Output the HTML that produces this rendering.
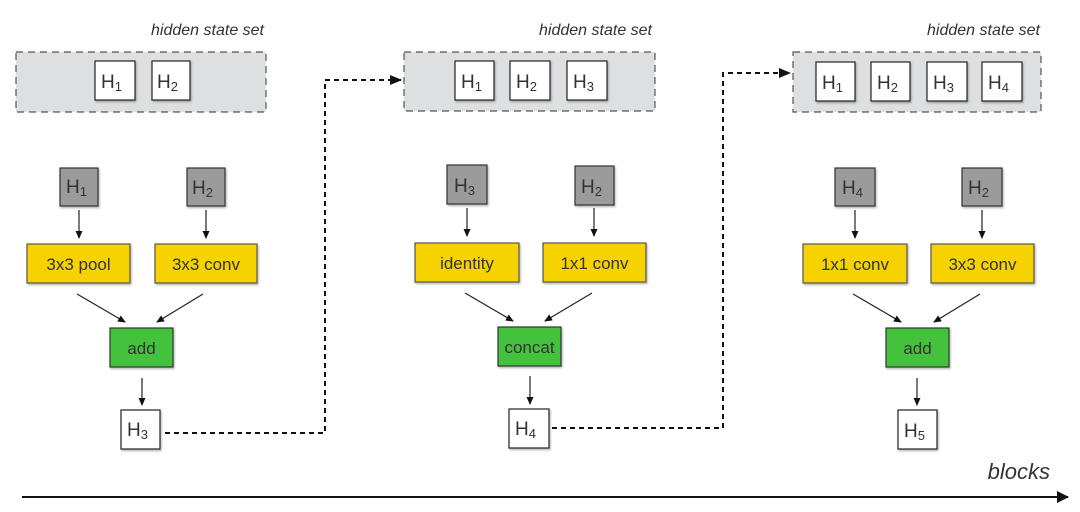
<!DOCTYPE html>
<html><head><meta charset="utf-8"><style>
html,body{margin:0;padding:0;background:#fff;width:1080px;height:512px;overflow:hidden}
svg text{font-family:"Liberation Sans",sans-serif;fill:#333}
</style></head><body>
<svg width="1080" height="512" xmlns="http://www.w3.org/2000/svg">
<defs>
<marker id="a" markerWidth="8" markerHeight="8" refX="7" refY="4" orient="auto" markerUnits="userSpaceOnUse"><path d="M0,0.5 L8,4 L0,7.5z" fill="#111"/></marker>
<marker id="c" markerWidth="12" markerHeight="12" refX="11" refY="6" orient="auto" markerUnits="userSpaceOnUse"><path d="M0,1 L12,6 L0,11z" fill="#111"/></marker>
<marker id="b" markerWidth="12" markerHeight="12" refX="11" refY="6" orient="auto" markerUnits="userSpaceOnUse"><path d="M0,0 L12,6 L0,12z" fill="#111"/></marker>
<filter id="s" x="-20%" y="-20%" width="150%" height="150%"><feDropShadow dx="1" dy="1.5" stdDeviation="1" flood-opacity="0.3"/></filter>
</defs>
<g font-style="italic" font-size="16">
<text x="264" y="35" text-anchor="end">hidden state set</text>
<text x="652" y="35" text-anchor="end">hidden state set</text>
<text x="1040" y="35" text-anchor="end">hidden state set</text>
</g>
<g fill="#dedfe1" stroke="#555" stroke-dasharray="7,5" stroke-width="1.2">
<rect x="16" y="52" width="250" height="60"/>
<rect x="404" y="52" width="251" height="59"/>
<rect x="793" y="52" width="248" height="60"/>
</g>
<g fill="#fff" stroke="#222" stroke-width="1.2" filter="url(#s)">
<rect x="95" y="61" width="40" height="39"/><rect x="152" y="61" width="38" height="39"/>
<rect x="455" y="61" width="39" height="39"/><rect x="510" y="61" width="40" height="39"/><rect x="567" y="61" width="40" height="39"/>
<rect x="816" y="62" width="39" height="39"/><rect x="871" y="62" width="39" height="39"/><rect x="927" y="62" width="40" height="39"/><rect x="982" y="62" width="40" height="39"/>
<rect x="121" y="410" width="39" height="39"/><rect x="509" y="409" width="40" height="39"/><rect x="898" y="410" width="39" height="39"/>
</g>
<g fill="#9b9b9b" stroke="#333" stroke-width="1.2" filter="url(#s)">
<rect x="60" y="168" width="38" height="38"/><rect x="187" y="168" width="38" height="38"/>
<rect x="447" y="165" width="40" height="39"/><rect x="575" y="166" width="39" height="39"/>
<rect x="835" y="168" width="40" height="38"/><rect x="962" y="168" width="40" height="38"/>
</g>
<g fill="#f5d200" stroke="#555" stroke-width="1.2" filter="url(#s)">
<rect x="27" y="244" width="103" height="39"/><rect x="155" y="244" width="102" height="39"/>
<rect x="415" y="243" width="104" height="39"/><rect x="543" y="243" width="103" height="39"/>
<rect x="803" y="244" width="104" height="39"/><rect x="931" y="244" width="103" height="39"/>
</g>
<g fill="#44c23d" stroke="#333" stroke-width="1.2" filter="url(#s)">
<rect x="110" y="328" width="63" height="39"/><rect x="498" y="327" width="63" height="39"/><rect x="886" y="328" width="63" height="39"/>
</g>
<g font-size="19">
<text x="101" y="88">H<tspan font-size="13" dy="3">1</tspan></text>
<text x="157" y="88">H<tspan font-size="13" dy="3">2</tspan></text>
<text x="461" y="88">H<tspan font-size="13" dy="3">1</tspan></text>
<text x="516" y="88">H<tspan font-size="13" dy="3">2</tspan></text>
<text x="573" y="88">H<tspan font-size="13" dy="3">3</tspan></text>
<text x="822" y="89">H<tspan font-size="13" dy="3">1</tspan></text>
<text x="877" y="89">H<tspan font-size="13" dy="3">2</tspan></text>
<text x="933" y="89">H<tspan font-size="13" dy="3">3</tspan></text>
<text x="988" y="89">H<tspan font-size="13" dy="3">4</tspan></text>
<text x="66" y="193">H<tspan font-size="13" dy="3">1</tspan></text>
<text x="192" y="194">H<tspan font-size="13" dy="3">2</tspan></text>
<text x="454" y="192">H<tspan font-size="13" dy="3">3</tspan></text>
<text x="581" y="193">H<tspan font-size="13" dy="3">2</tspan></text>
<text x="842" y="194">H<tspan font-size="13" dy="3">4</tspan></text>
<text x="968" y="194">H<tspan font-size="13" dy="3">2</tspan></text>
<text x="127" y="436">H<tspan font-size="13" dy="3">3</tspan></text>
<text x="515" y="435">H<tspan font-size="13" dy="3">4</tspan></text>
<text x="904" y="437">H<tspan font-size="13" dy="3">5</tspan></text>
</g>
<g font-size="17" text-anchor="middle">
<text x="78.5" y="270">3x3 pool</text><text x="206" y="270">3x3 conv</text>
<text x="467" y="269">identity</text><text x="594.5" y="269">1x1 conv</text>
<text x="855" y="270">1x1 conv</text><text x="982.5" y="270">3x3 conv</text>
<text x="141.5" y="354">add</text><text x="529.5" y="353">concat</text><text x="917.5" y="354">add</text>
</g>
<g stroke="#222" stroke-width="1.2" marker-end="url(#a)">
<line x1="79" y1="210" x2="79" y2="238"/><line x1="206" y1="210" x2="206" y2="238"/>
<line x1="467" y1="208" x2="467" y2="236"/><line x1="594" y1="208" x2="594" y2="236"/>
<line x1="855" y1="210" x2="855" y2="238"/><line x1="982" y1="210" x2="982" y2="238"/>
<line x1="77" y1="294" x2="125" y2="322"/><line x1="203" y1="294" x2="157" y2="322"/>
<line x1="465" y1="293" x2="513" y2="321"/><line x1="592" y1="293" x2="545" y2="321"/>
<line x1="853" y1="294" x2="901" y2="322"/><line x1="980" y1="294" x2="934" y2="322"/>
<line x1="142" y1="378" x2="142" y2="405"/><line x1="530" y1="376" x2="530" y2="404"/><line x1="917" y1="378" x2="917" y2="405"/>
</g>
<g fill="none" stroke="#111" stroke-width="2" stroke-dasharray="5,4" marker-end="url(#c)">
<path d="M165,433 H325 V80 H401"/>
<path d="M552,428 H723 V73 H790"/>
</g>
<line x1="22" y1="497" x2="1068" y2="497" stroke="#111" stroke-width="2" marker-end="url(#b)"/>
<text x="1050" y="479" text-anchor="end" font-size="22" font-style="italic">blocks</text>
</svg>
</body></html>
